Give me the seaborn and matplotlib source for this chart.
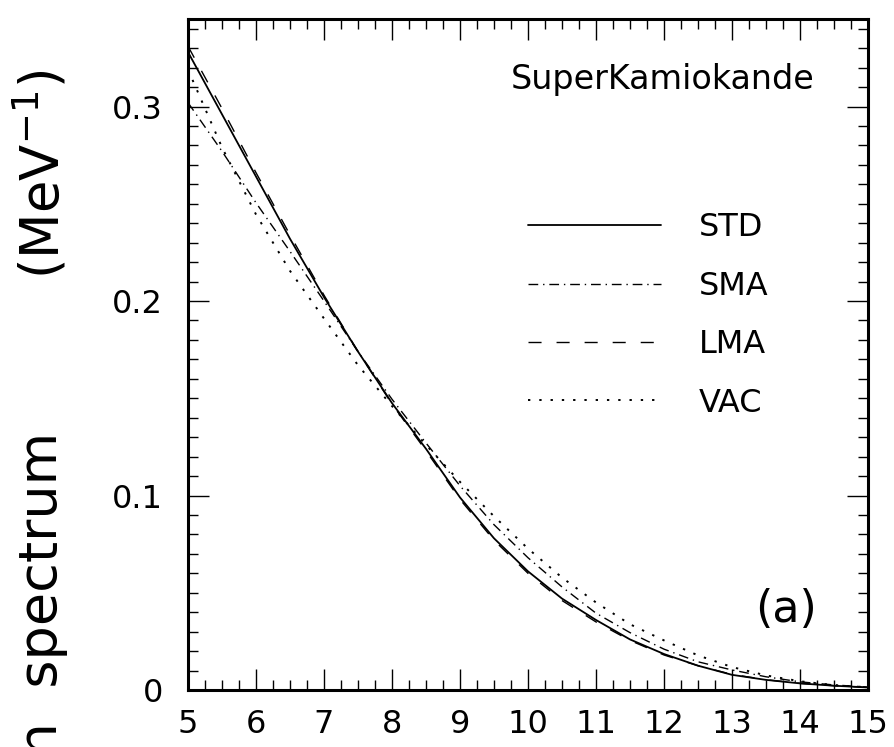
import numpy as np
import pandas as pd
import matplotlib
matplotlib.use("Agg")
import matplotlib.pyplot as plt
import seaborn as sns
from matplotlib.ticker import MultipleLocator

# ---- data ----
energy = [5.0, 5.5, 6.0, 6.5, 7.0, 7.5, 8.0, 8.5, 9.0, 9.5, 10.0,
          10.5, 11.0, 11.5, 12.0, 12.5, 13.0, 13.5, 14.0, 14.5, 15.0]
std = [0.328, 0.296, 0.264, 0.232, 0.202, 0.174, 0.1475, 0.124, 0.099, 0.078, 0.061,
       0.047, 0.036, 0.026, 0.0185, 0.0125, 0.0078, 0.0052, 0.0034, 0.0022, 0.0013]
sma = [0.302, 0.277, 0.2505, 0.2255, 0.200, 0.174, 0.1495, 0.127, 0.105, 0.085, 0.068,
       0.053, 0.0395, 0.0295, 0.021, 0.0145, 0.0103, 0.0068, 0.0042, 0.0026, 0.0015]
lma = [0.331, 0.299, 0.266, 0.234, 0.203, 0.174, 0.147, 0.123, 0.098, 0.077, 0.060,
       0.046, 0.035, 0.0255, 0.018, 0.0125, 0.008, 0.0053, 0.0034, 0.0022, 0.0013]
vac = [0.319, 0.279, 0.2445, 0.2155, 0.191, 0.167, 0.146, 0.126, 0.107, 0.0893, 0.0727,
       0.0578, 0.045, 0.0338, 0.0255, 0.0178, 0.0118, 0.0075, 0.0045, 0.0025, 0.0014]
labels = ["STD", "SMA", "LMA", "VAC"]
x_ticks = [5, 6, 7, 8, 9, 10, 11, 12, 13, 14, 15]
y_ticks = [0, 0.1, 0.2, 0.3]
y_tick_labels = ["0", "0.1", "0.2", "0.3"]

df = pd.DataFrame({
    "E": energy * 4,
    "val": std + sma + lma + vac,
    "model": sum([[l] * len(energy) for l in labels], []),
})

styles = {
    "STD": dict(linestyle="-", lw=1.3),
    "SMA": dict(linestyle=(0, (7.0, 3.5, 1.0, 3.5)), lw=1.0),
    "LMA": dict(linestyle=(0, (9.4, 10.8)), lw=1.0),
    "VAC": dict(linestyle=(0, (1.2, 4.6)), lw=1.4),
}

sns.set_theme(style="white")
plt.rcParams["font.family"] = ["DejaVu Sans"]

fig = plt.figure(figsize=(8.94, 7.47), dpi=100)
ax = fig.add_axes([188 / 894, 1 - 690 / 747, 680 / 894, 671 / 747])

for lab in labels:
    sub = df[df["model"] == lab]
    sns.lineplot(data=sub, x="E", y="val", ax=ax, color="black", label=lab,
                 estimator=None, sort=False, **styles[lab])

ax.set_xlim(5, 15)
ax.set_ylim(0, 0.345)
ax.set_xticks(x_ticks)
ax.set_xticklabels([str(t) for t in x_ticks])
ax.set_yticks(y_ticks)
ax.set_yticklabels(y_tick_labels)
ax.xaxis.set_minor_locator(MultipleLocator(0.25))
ax.yaxis.set_minor_locator(MultipleLocator(0.01))
ax.set_xlabel("")
ax.set_ylabel("")

ax.tick_params(which="both", direction="in", top=True, right=True, bottom=True, left=True,
               color="black", width=1.0, labelcolor="black")
ax.tick_params(which="major", length=15, labelsize=23)
ax.tick_params(which="minor", length=7.5)
ax.tick_params(axis="x", which="major", pad=14)
ax.tick_params(axis="y", which="major", pad=18)

for sp in ax.spines.values():
    sp.set_color("black")
    sp.set_linewidth(2.2)
    sp.set_visible(True)

leg = ax.legend(loc="upper left", bbox_to_anchor=(0.5, 0.712), frameon=False,
                fontsize=23, handlelength=4.15, handletextpad=1.2, labelspacing=0.86,
                borderpad=0, borderaxespad=0)
for t in leg.get_texts():
    t.set_color("black")

ax.text(0.922, 0.91, "SuperKamiokande", transform=ax.transAxes, ha="right", va="center",
        fontsize=24, color="black")
ax.text(0.88, 0.12, "(a)", transform=ax.transAxes, ha="center", va="center",
        fontsize=32, color="black")

fig.text(42 / 894, 1 - 432 / 747, "Electron  spectrum", rotation=90, ha="center", va="top",
         fontsize=39, color="black")
fig.text(42 / 894, 1 - 70 / 747, "(MeV$^{-1}$)", rotation=90, ha="center", va="top",
         fontsize=38, color="black")

fig.savefig("out.png", dpi=100, facecolor="white")
